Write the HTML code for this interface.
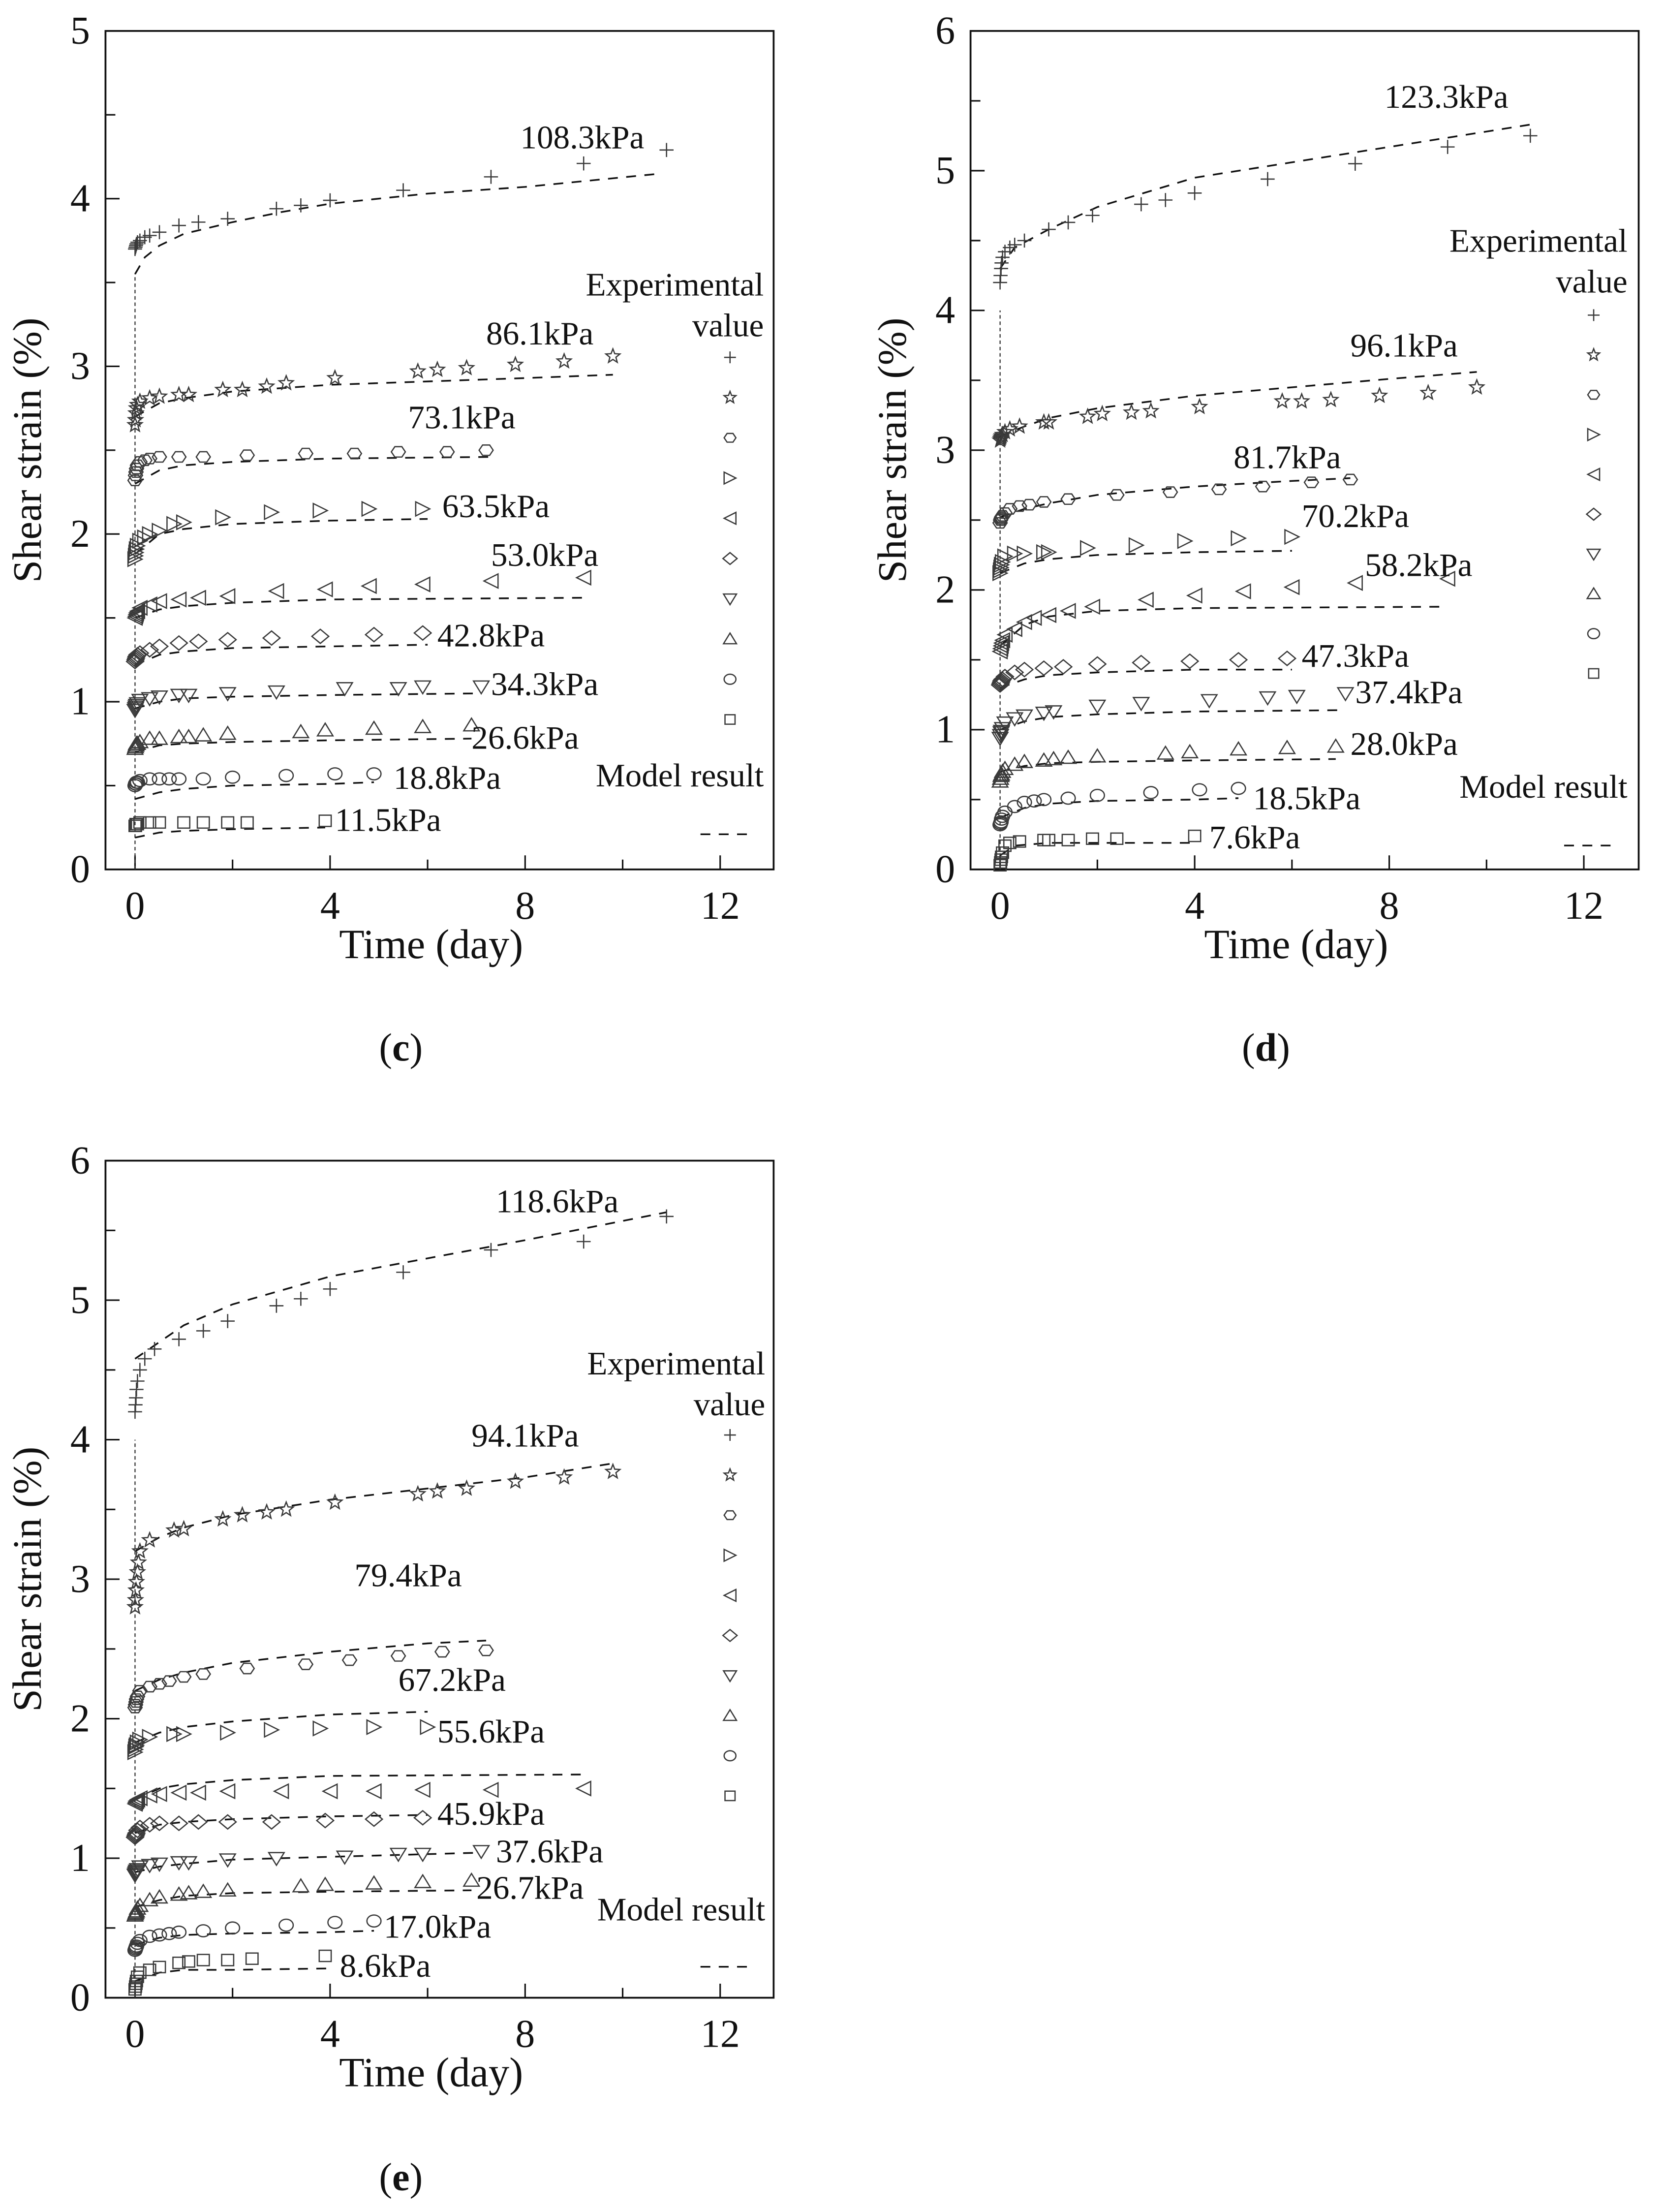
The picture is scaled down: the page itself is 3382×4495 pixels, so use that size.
<!DOCTYPE html>
<html><head><meta charset="utf-8"><style>
html,body{margin:0;padding:0;background:#fff;}
svg{display:block;}
text{font-family:"Liberation Serif",serif;fill:#111;}
</style></head><body>
<svg id="fig" width="3382" height="4495" viewBox="0 0 1183 1572.3" preserveAspectRatio="none" xmlns="http://www.w3.org/2000/svg"></svg>
<script>
// ---------- Panel (c) data ----------
const cLabels = ["108.3kPa","86.1kPa","73.1kPa","63.5kPa","53.0kPa","42.8kPa","34.3kPa","26.6kPa","18.8kPa","11.5kPa"];
const cLabelT = [7.9,7.2,5.6,6.3,7.3,6.2,7.3,6.9,5.3,4.1];
const cLabelV = [4.3,3.13,2.63,2.1,1.81,1.33,1.04,0.72,0.48,0.23];
const cExpT = [
 [0,0.01,0.02,0.03,0.05,0.1,0.2,0.3,0.5,0.9,1.3,1.9,2.9,3.4,4.0,5.5,7.3,9.2,10.9],
 [0,0.01,0.02,0.03,0.05,0.1,0.3,0.5,0.9,1.1,1.8,2.2,2.7,3.1,4.1,5.8,6.2,6.8,7.8,8.8,9.8],
 [0,0.01,0.02,0.03,0.05,0.1,0.2,0.3,0.5,0.9,1.4,2.3,3.5,4.5,5.4,6.4,7.2],
 [0,0.01,0.02,0.03,0.05,0.1,0.2,0.3,0.5,0.8,1.0,1.8,2.8,3.8,4.8,5.9],
 [0,0.01,0.02,0.03,0.05,0.1,0.3,0.5,0.9,1.3,1.9,2.9,3.9,4.8,5.9,7.3,9.2],
 [0,0.01,0.02,0.03,0.05,0.1,0.3,0.5,0.9,1.3,1.9,2.8,3.8,4.9,5.9],
 [0,0.01,0.02,0.03,0.05,0.1,0.3,0.5,0.9,1.1,1.9,2.9,4.3,5.4,5.9,7.1],
 [0,0.01,0.02,0.03,0.05,0.1,0.3,0.5,0.9,1.1,1.4,1.9,3.4,3.9,4.9,5.9,6.9],
 [0,0.01,0.02,0.03,0.05,0.1,0.3,0.5,0.7,0.9,1.4,2.0,3.1,4.1,4.9],
 [0,0.01,0.02,0.03,0.05,0.1,0.3,0.5,1.0,1.4,1.9,2.3,3.9]
];
const cExpV = [
 [3.70,3.71,3.72,3.73,3.74,3.75,3.77,3.78,3.80,3.84,3.86,3.88,3.94,3.96,3.99,4.05,4.13,4.21,4.29],
 [2.65,2.68,2.72,2.75,2.77,2.79,2.81,2.82,2.83,2.83,2.86,2.86,2.88,2.90,2.93,2.97,2.98,2.99,3.01,3.03,3.06],
 [2.32,2.35,2.37,2.39,2.41,2.43,2.44,2.45,2.46,2.46,2.46,2.47,2.48,2.48,2.49,2.49,2.50],
 [1.85,1.87,1.89,1.91,1.93,1.96,1.98,2.00,2.02,2.06,2.07,2.10,2.13,2.14,2.15,2.15],
 [1.50,1.51,1.52,1.53,1.54,1.56,1.58,1.60,1.61,1.62,1.63,1.66,1.67,1.69,1.70,1.72,1.74],
 [1.24,1.25,1.26,1.27,1.28,1.29,1.31,1.33,1.35,1.36,1.37,1.38,1.39,1.40,1.41],
 [0.95,0.96,0.97,0.98,0.99,1.01,1.02,1.03,1.04,1.04,1.05,1.06,1.08,1.08,1.09,1.09],
 [0.72,0.73,0.74,0.75,0.75,0.76,0.78,0.78,0.79,0.79,0.80,0.81,0.82,0.83,0.84,0.85,0.86],
 [0.50,0.51,0.51,0.52,0.52,0.53,0.54,0.54,0.54,0.54,0.54,0.55,0.56,0.57,0.57],
 [0.26,0.26,0.27,0.27,0.27,0.28,0.28,0.28,0.28,0.28,0.28,0.28,0.29]
];
const cModT = [
 [0,0.2,0.5,1,2,3,4,6,8,10.8],
 [0,0.5,1,2,4,6,8,9.8],
 [0,0.5,1,2,4,7.3],
 [0,0.5,1,2,4,6],
 [0,0.5,1,2,4,9.2],
 [0,0.5,1,2,4,6],
 [0,0.5,1,2,4,7.1],
 [0,0.5,1,2,4,6.9],
 [0,0.5,1,2,4,4.9],
 [0,0.5,1,2,3.9]
];
const cModV = [
 [3.55,3.65,3.72,3.79,3.86,3.92,3.97,4.03,4.07,4.15],
 [2.70,2.78,2.81,2.85,2.89,2.91,2.93,2.95],
 [2.30,2.38,2.41,2.43,2.45,2.46],
 [1.88,2.00,2.03,2.06,2.08,2.09],
 [1.50,1.55,1.57,1.59,1.61,1.62],
 [1.22,1.28,1.30,1.32,1.33,1.34],
 [0.96,1.00,1.02,1.03,1.04,1.05],
 [0.70,0.74,0.75,0.76,0.77,0.78],
 [0.42,0.46,0.48,0.50,0.51,0.52],
 [0.19,0.22,0.23,0.24,0.25]
];
// ---------- Panel (d) data ----------
const dLabels = ["123.3kPa","96.1kPa","81.7kPa","70.2kPa","58.2kPa","47.3kPa","37.4kPa","28.0kPa","18.5kPa","7.6kPa"];
const dLabelT = [7.9,7.2,4.8,6.2,7.5,6.2,7.3,7.2,5.2,4.3];
const dLabelV = [5.45,3.67,2.87,2.45,2.1,1.45,1.19,0.82,0.43,0.15];
const dExpT = [
 [0,0.01,0.02,0.03,0.05,0.1,0.2,0.3,0.5,1.0,1.4,1.9,2.9,3.4,4.0,5.5,7.3,9.2,10.9],
 [0,0.01,0.02,0.03,0.05,0.1,0.2,0.4,0.9,1.0,1.8,2.1,2.7,3.1,4.1,5.8,6.2,6.8,7.8,8.8,9.8],
 [0,0.01,0.02,0.03,0.05,0.1,0.2,0.4,0.6,0.9,1.4,2.4,3.5,4.5,5.4,6.4,7.2],
 [0,0.01,0.02,0.03,0.05,0.1,0.3,0.5,0.9,1.0,1.8,2.8,3.8,4.9,6.0],
 [0,0.01,0.02,0.03,0.05,0.1,0.3,0.5,0.7,1.0,1.4,1.9,3.0,4.0,5.0,6.0,7.3,9.2],
 [0,0.01,0.02,0.03,0.05,0.1,0.3,0.5,0.9,1.3,2.0,2.9,3.9,4.9,5.9],
 [0,0.01,0.02,0.03,0.05,0.1,0.3,0.5,0.9,1.1,2.0,2.9,4.3,5.5,6.1,7.1],
 [0,0.01,0.02,0.03,0.05,0.1,0.3,0.5,0.9,1.1,1.4,2.0,3.4,3.9,4.9,5.9,6.9],
 [0,0.01,0.02,0.03,0.05,0.1,0.3,0.5,0.7,0.9,1.4,2.0,3.1,4.1,4.9],
 [0,0.01,0.02,0.03,0.05,0.1,0.2,0.4,0.9,1.0,1.4,1.9,2.4,4.0]
];
const dExpV = [
 [4.20,4.25,4.30,4.34,4.38,4.42,4.45,4.47,4.50,4.58,4.63,4.68,4.76,4.79,4.84,4.94,5.05,5.17,5.25],
 [3.07,3.08,3.09,3.10,3.11,3.13,3.15,3.17,3.20,3.20,3.24,3.26,3.27,3.28,3.31,3.35,3.35,3.36,3.39,3.41,3.45],
 [2.48,2.50,2.51,2.52,2.53,2.55,2.58,2.60,2.61,2.63,2.65,2.68,2.70,2.72,2.74,2.77,2.79],
 [2.12,2.14,2.16,2.18,2.20,2.24,2.26,2.26,2.27,2.27,2.30,2.32,2.35,2.37,2.38],
 [1.56,1.58,1.60,1.62,1.64,1.68,1.72,1.77,1.80,1.82,1.85,1.88,1.93,1.96,1.99,2.02,2.05,2.08],
 [1.32,1.33,1.34,1.35,1.36,1.38,1.41,1.43,1.44,1.45,1.47,1.48,1.49,1.50,1.51],
 [0.94,0.96,0.98,0.99,1.01,1.05,1.08,1.10,1.12,1.13,1.17,1.19,1.21,1.23,1.24,1.26],
 [0.63,0.65,0.67,0.68,0.70,0.72,0.75,0.77,0.78,0.79,0.80,0.81,0.83,0.84,0.86,0.87,0.88],
 [0.32,0.33,0.34,0.36,0.38,0.41,0.45,0.48,0.49,0.50,0.51,0.53,0.55,0.57,0.58],
 [0.03,0.05,0.07,0.09,0.12,0.17,0.19,0.20,0.21,0.21,0.21,0.22,0.22,0.24]
];
const dModT = [
 [0,0.3,1,2,4,6,8,10.9],
 [0,0.5,1,2,4,6,8,9.8],
 [0,0.5,1,2,4,6,7.2],
 [0,0.5,1,2,4,6],
 [0,0.5,1,2,4,9.2],
 [0,0.5,1,2,4,6],
 [0,0.5,1,2,4,7.1],
 [0,0.5,1,2,4,6.9],
 [0,0.5,1,2,4,4.9],
 [0,0.3,1,2,4]
];
const dModV = [
 [4.30,4.45,4.58,4.74,4.95,5.06,5.17,5.33],
 [3.10,3.17,3.23,3.30,3.39,3.45,3.51,3.56],
 [2.52,2.58,2.62,2.68,2.74,2.78,2.80],
 [2.12,2.19,2.22,2.25,2.27,2.28],
 [1.60,1.75,1.81,1.85,1.87,1.88],
 [1.30,1.36,1.39,1.41,1.43,1.43],
 [1.00,1.06,1.09,1.11,1.13,1.14],
 [0.70,0.74,0.76,0.77,0.78,0.79],
 [0.37,0.44,0.47,0.49,0.50,0.51],
 [0.10,0.17,0.19,0.19,0.19]
];
// ---------- Panel (e) data ----------
const eLabels = ["118.6kPa","94.1kPa","79.4kPa","67.2kPa","55.6kPa","45.9kPa","37.6kPa","26.7kPa","17.0kPa","8.6kPa"];
const eLabelT = [7.4,6.9,4.5,5.4,6.2,6.2,7.4,7.0,5.1,4.2];
const eLabelV = [5.63,3.95,2.95,2.2,1.83,1.24,0.97,0.71,0.43,0.15];
const eExpT = [
 [0,0.01,0.02,0.03,0.05,0.1,0.2,0.4,0.9,1.4,1.9,2.9,3.4,4.0,5.5,7.3,9.2,10.9],
 [0,0.01,0.02,0.03,0.05,0.07,0.1,0.3,0.8,1.0,1.8,2.2,2.7,3.1,4.1,5.8,6.2,6.8,7.8,8.8,9.8],
 [0,0.01,0.02,0.03,0.05,0.1,0.3,0.5,0.7,1.0,1.4,2.3,3.5,4.4,5.4,6.3,7.2],
 [0,0.01,0.02,0.03,0.05,0.1,0.3,0.8,1.0,1.9,2.8,3.8,4.9,6.0],
 [0,0.01,0.02,0.03,0.05,0.1,0.3,0.5,0.9,1.3,1.9,3.0,4.0,4.9,5.9,7.3,9.2],
 [0,0.01,0.02,0.03,0.05,0.1,0.3,0.5,0.9,1.3,1.9,2.8,3.9,4.9,5.9],
 [0,0.01,0.02,0.03,0.05,0.1,0.3,0.5,0.9,1.1,1.9,2.9,4.3,5.4,5.9,7.1],
 [0,0.01,0.02,0.03,0.05,0.1,0.3,0.5,0.9,1.1,1.4,1.9,3.4,3.9,4.9,5.9,6.9],
 [0,0.01,0.02,0.03,0.05,0.1,0.3,0.5,0.7,0.9,1.4,2.0,3.1,4.1,4.9],
 [0,0.01,0.02,0.03,0.05,0.1,0.3,0.5,0.9,1.1,1.4,1.9,2.4,3.9]
];
const eExpV = [
 [4.20,4.25,4.30,4.36,4.42,4.50,4.58,4.65,4.72,4.78,4.85,4.96,5.01,5.08,5.20,5.36,5.42,5.60],
 [2.80,2.85,2.92,2.98,3.05,3.12,3.20,3.28,3.35,3.36,3.43,3.46,3.48,3.50,3.55,3.61,3.63,3.65,3.70,3.73,3.77],
 [2.08,2.10,2.12,2.14,2.16,2.20,2.23,2.25,2.27,2.30,2.32,2.36,2.39,2.42,2.45,2.48,2.49],
 [1.76,1.78,1.80,1.81,1.83,1.85,1.87,1.89,1.89,1.90,1.92,1.93,1.94,1.94],
 [1.39,1.40,1.41,1.41,1.42,1.43,1.45,1.46,1.47,1.47,1.48,1.48,1.48,1.48,1.49,1.49,1.50],
 [1.15,1.16,1.17,1.18,1.20,1.22,1.24,1.25,1.25,1.26,1.26,1.26,1.27,1.28,1.29],
 [0.88,0.89,0.90,0.91,0.92,0.94,0.95,0.96,0.97,0.97,0.99,1.00,1.01,1.03,1.03,1.05],
 [0.59,0.60,0.61,0.62,0.64,0.66,0.70,0.72,0.74,0.75,0.76,0.77,0.80,0.81,0.82,0.83,0.84],
 [0.34,0.35,0.36,0.37,0.39,0.41,0.44,0.45,0.46,0.47,0.48,0.50,0.52,0.54,0.55],
 [0.06,0.08,0.10,0.12,0.15,0.18,0.20,0.22,0.25,0.26,0.27,0.27,0.28,0.30]
];
const eModT = [
 [0,0.5,1,2,4,6,8,10.9],
 [0,0.5,1,2,4,6,8,9.8],
 [0,0.5,1,2,4,6,7.2],
 [0,0.5,1,2,4,6],
 [0,0.5,1,2,4,9.2],
 [0,0.5,1,2,4,6],
 [0,0.5,1,2,4,7.1],
 [0,0.5,1,2,4,6.9],
 [0,0.5,1,2,4,4.9],
 [0,0.5,1,2,4]
];
const eModV = [
 [4.58,4.70,4.82,4.97,5.17,5.30,5.43,5.63],
 [3.20,3.30,3.37,3.46,3.57,3.65,3.73,3.83],
 [2.20,2.28,2.33,2.40,2.48,2.54,2.56],
 [1.83,1.90,1.94,1.98,2.03,2.05],
 [1.42,1.50,1.53,1.56,1.59,1.60],
 [1.18,1.24,1.26,1.28,1.30,1.31],
 [0.90,0.94,0.96,0.99,1.01,1.04],
 [0.65,0.70,0.73,0.75,0.76,0.77],
 [0.38,0.43,0.45,0.46,0.47,0.48],
 [0.12,0.18,0.20,0.20,0.21]
];
const markerKinds = ["plus","star","hex","rtri","ltri","diamond","dtri","utri","circle","square"];
const xTicks = [0,4,8,12];
const cYTicks = [0,1,2,3,4,5];
const dYTicks = [0,1,2,3,4,5,6];
const eYTicks = [0,1,2,3,4,5,6];

const NS = "http://www.w3.org/2000/svg";
const fig = document.getElementById("fig");
function mk(tag, attrs, parent) {
  const el = document.createElementNS(NS, tag);
  for (const k in attrs) el.setAttribute(k, attrs[k]);
  (parent || fig).appendChild(el);
  return el;
}
function marker(g, kind, x, y, r) {
  const st = {fill:"none", stroke:"#3a3a3a", "stroke-width":0.9};
  let el;
  if (kind === "plus") {
    el = mk("path", Object.assign({d:`M${x-r},${y}H${x+r}M${x},${y-r}V${y+r}`}, st), g);
  } else if (kind === "star") {
    let p = [];
    for (let i = 0; i < 10; i++) { const a = -Math.PI/2 + i*Math.PI/5; const rr = i%2 ? r*0.45 : r*1.05; p.push((x+rr*Math.cos(a)).toFixed(2)+","+(y+rr*Math.sin(a)).toFixed(2)); }
    el = mk("polygon", Object.assign({points:p.join(" ")}, st), g);
  } else if (kind === "hex") {
    let p = [];
    for (let i = 0; i < 6; i++) { const a = i*Math.PI/3; p.push((x+r*Math.cos(a)).toFixed(2)+","+(y+r*0.85*Math.sin(a)).toFixed(2)); }
    el = mk("polygon", Object.assign({points:p.join(" ")}, st), g);
  } else if (kind === "rtri") {
    el = mk("polygon", Object.assign({points:`${x-r},${y-r} ${x+r},${y} ${x-r},${y+r}`}, st), g);
  } else if (kind === "ltri") {
    el = mk("polygon", Object.assign({points:`${x+r},${y-r} ${x-r},${y} ${x+r},${y+r}`}, st), g);
  } else if (kind === "diamond") {
    el = mk("polygon", Object.assign({points:`${x},${y-r} ${x+r*1.2},${y} ${x},${y+r} ${x-r*1.2},${y}`}, st), g);
  } else if (kind === "dtri") {
    el = mk("polygon", Object.assign({points:`${x-r*1.1},${y-r*0.8} ${x+r*1.1},${y-r*0.8} ${x},${y+r}`}, st), g);
  } else if (kind === "utri") {
    el = mk("polygon", Object.assign({points:`${x-r*1.1},${y+r*0.8} ${x+r*1.1},${y+r*0.8} ${x},${y-r}`}, st), g);
  } else if (kind === "circle") {
    el = mk("ellipse", Object.assign({cx:x, cy:y, rx:r, ry:r*0.85}, st), g);
  } else {
    el = mk("rect", Object.assign({x:x-r*0.85, y:y-r*0.8, width:r*1.7, height:r*1.6}, st), g);
  }
  return el;
}

function drawPanel(id, box, ymax, yTicks, labels, labT, labV, expT, expV, modT, modV, dottedTop, legend, caption) {
  const g = mk("g", {});
  
  
  const sx = t => box.x0 + t * (box.x12 - box.x0) / 12;
  const sy = v => box.bottom - v * (box.bottom - box.top) / ymax;
  const fr = mk("rect", {x:box.left, y:box.top, width:box.right-box.left, height:box.bottom-box.top, fill:"none", stroke:"#111", "stroke-width":1.3}, g);
  
  
  for (let v = 0; v <= ymax + 1e-9; v += 0.5) {
    const major = Math.abs(v - Math.round(v)) < 1e-6;
    mk("line", {x1:box.left, x2:box.left + (major ? 10 : 7), y1:sy(v), y2:sy(v), stroke:"#111", "stroke-width":1.1}, g);
  }
  yTicks.forEach(v => {
    const t = mk("text", {x:box.left - 11, y:sy(v) + 9, "text-anchor":"end", "font-size":28}, g);
    t.textContent = v;
    
    
  });
  for (let tv = 0; tv <= 12; tv += 2) {
    const major = tv % 4 === 0;
    mk("line", {x1:sx(tv), x2:sx(tv), y1:box.bottom, y2:box.bottom - (major ? 10 : 7), stroke:"#111", "stroke-width":1.1}, g);
  }
  xTicks.forEach(tv => {
    const t = mk("text", {x:sx(tv), y:box.bottom + 35, "text-anchor":"middle", "font-size":28}, g);
    t.textContent = tv;
    
    
  });
  const xt = mk("text", {x:(box.left+box.right)/2 - 6, y:box.bottom + 63, "text-anchor":"middle", "font-size":29.5}, g);
  xt.textContent = "Time (day)";
  
  
  const yx = box.left - 46, yy = (box.top + box.bottom)/2;
  const ytl = mk("text", {x:yx, y:yy, "text-anchor":"middle", "font-size":29, transform:`rotate(-90 ${yx} ${yy})`}, g);
  ytl.textContent = "Shear strain (%)";
  
  
  mk("line", {x1:sx(0), x2:sx(0), y1:box.bottom, y2:sy(dottedTop), stroke:"#333", "stroke-width":0.8, "stroke-dasharray":"2.5,2"}, g);
  for (let i = 0; i < labels.length; i++) {
    const sg = mk("g", {}, g);
    
    
    const pts = modT[i].map((t, j) => sx(t).toFixed(2) + "," + sy(modV[i][j]).toFixed(2)).join(" ");
    const ml = mk("polyline", {points:pts, fill:"none", stroke:"#111", "stroke-width":1.2, "stroke-dasharray":"7,6"}, sg);
    
    
    expT[i].forEach((t, j) => {
      const m = marker(sg, markerKinds[i], sx(t), sy(expV[i][j]), 5);
      
      
    });
    const lt = mk("text", {x:sx(labT[i]), y:sy(labV[i]), "font-size":23.5}, sg);
    lt.textContent = labels[i];
    
    
  }
  const lg = mk("g", {}, g);
  
  
  const l1 = mk("text", {x:legend.tx, y:legend.y1, "text-anchor":"end", "font-size":23.5}, lg);
  l1.textContent = "Experimental";
  const l2 = mk("text", {x:legend.tx, y:legend.y1 + 29, "text-anchor":"end", "font-size":23.5}, lg);
  l2.textContent = "value";
  markerKinds.forEach((k, i) => {
    const m = marker(lg, k, legend.mx, legend.my0 + i * legend.dy, 4.2);
    
    
  });
  const l3 = mk("text", {x:legend.tx, y:legend.ymr, "text-anchor":"end", "font-size":23.5}, lg);
  l3.textContent = "Model result";
  mk("line", {x1:legend.mx - 21, x2:legend.mx + 15, y1:legend.yd, y2:legend.yd, stroke:"#111", "stroke-width":1.2, "stroke-dasharray":"7,6"}, lg);
  const cap = mk("text", {x:caption.x, y:caption.y, "text-anchor":"middle", "font-size":28}, g);
  cap.innerHTML = '(<tspan font-weight="bold">' + id + '</tspan>)';
  
  
}

drawPanel("c", {left:75, right:550, top:22, bottom:618, x0:96, x12:512}, 5, cYTicks,
  cLabels, cLabelT, cLabelV, cExpT, cExpV, cModT, cModV, 3.55,
  {tx:543, y1:210, mx:519, my0:254, dy:28.6, ymr:559, yd:593}, {x:285, y:754});
drawPanel("d", {left:690, right:1165, top:22, bottom:618, x0:711, x12:1126}, 6, dYTicks,
  dLabels, dLabelT, dLabelV, dExpT, dExpV, dModT, dModV, 4.0,
  {tx:1157, y1:179, mx:1133, my0:224, dy:28.3, ymr:567, yd:601}, {x:900, y:754});
drawPanel("e", {left:75, right:550, top:825, bottom:1420, x0:96, x12:512}, 6, eYTicks,
  eLabels, eLabelT, eLabelV, eExpT, eExpV, eModT, eModV, 4.0,
  {tx:544, y1:977, mx:519, my0:1020, dy:28.5, ymr:1365, yd:1398}, {x:285, y:1557});
</script>
</body></html>
